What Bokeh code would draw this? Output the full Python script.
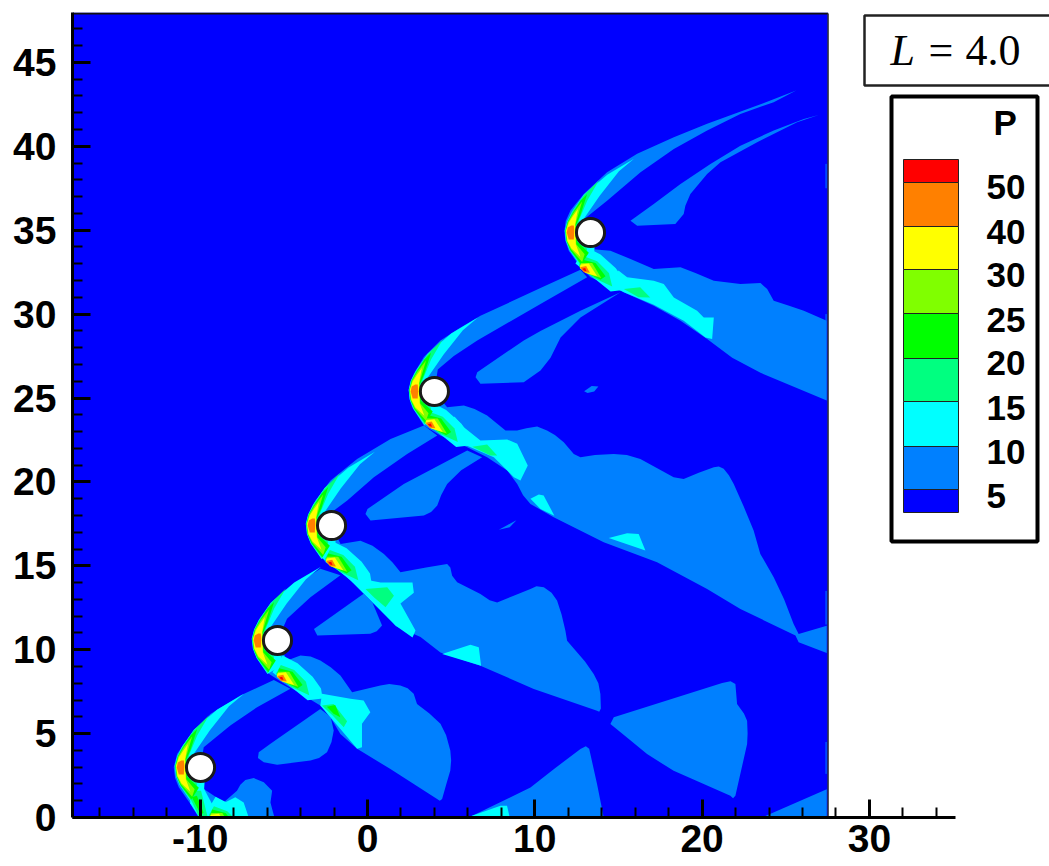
from bokeh.plotting import figure
from bokeh.models import Range1d, FixedTicker
from bokeh.core.properties import value
from bokeh.embed import file_html
from bokeh.resources import INLINE

# ---------- data ----------
levels = ["50", "40", "30", "25", "20", "15", "10", "5"]
C5, C10, C15, C20, C25, C30, C40, C50, C99 = ("#0000ff", "#0080ff", "#00ffff", "#00ff80",
                                             "#00ff00", "#80ff00", "#ffff00", "#ff8000", "#ff0000")
centres = [(-9.98, 2.98), (-5.38, 10.55), (-2.15, 17.4), (4.0, 25.39), (13.33, 34.86)]
lower_shift = [(0.9, -0.85), (0.3, 0.0), (0.0, 0.0), (-0.2, 0.25), (-0.3, 0.05)]
radius = 0.84
x_major = [-10, 0, 10, 20, 30]
x_minor = [-16, -14, -12, -8, -6, -4, -2, 2, 4, 6, 8, 12, 14, 16, 18, 22, 24, 26, 28, 32, 34]
y_major = [0, 5, 10, 15, 20, 25, 30, 35, 40, 45]
y_minor = [v for v in range(1, 48) if v % 5]
field_right = 27.53

# level 5-10 regions
bow1 = [(-5.6,8.2),(-7.6,7.27),(-9.39,6.17),(-10.0,5.55),(-10.58,4.88),(-11.0,4.35),(-11.38,3.79),(-11.58,2.99),(-11.5,2.35),(-11.28,1.8),
        (-10.58,.81),(-10.09,0),(-5.56,0),(-5.7,.5),(-5.8,.9),(-5.7,1.6),(-6.2,2.1),(-6.8,2.35),(-7.3,2.24),(-7.6,1.95),(-7.8,1.6),(-8.59,.91),
        (-10.39,2.1),(-9.98,2.98),(-9.79,4.19),(-8.2,5.48),(-6.6,6.57),(-4.61,7.67)]
bow2 = [(-2.82,14.82),(-4.21,13.93),(-5.6,12.74),(-6.5,11.74),(-6.75,11.2),(-6.84,10.55),(-6.8,10.0),(-6.6,9.55),(-5.9,8.56),(-4.81,7.86),(-3.81,7.27),
        (-2.82,6.67),(-2.22,5.98),(-1.62,4.98),(-.62,4.09),(1.37,2.89),(4.16,1.1),(4.32,1.0),(4.46,1.1),(4.7,1.95),(4.95,2.8),(5.0,3.4),(4.95,3.99),
        (4.7,4.9),(4.36,5.58),(3.7,6.2),(2.96,6.77),(2.76,7.37),(2.4,7.7),(1.96,7.86),(1.3,7.95),(.77,7.86),(-.92,7.47),(-1.62,8.46),(-2.2,8.95),(-2.82,9.36),
        (-3.4,9.6),(-4.01,9.65),(-4.81,9.36),(-5.38,10.55),(-4.81,11.84),(-3.41,13.13),(-1.62,14.43)]
bow3 = [(3.37,23.36),(1.38,22.56),(-.62,21.37),(-2.21,20.08),(-3.11,18.89),(-3.45,18.2),(-3.6,17.5),(-3.55,17.0),(-3.4,16.5),(-2.51,15.21),(-1.61,14.61),
        (-.42,13.72),(.78,12.53),(1.7,11.4),(3.17,10.75),(4.36,9.84),(6.75,9.05),(9.94,7.66),(13.72,6.36),(13.85,6.3),(13.95,6.5),(13.92,7.36),(13.8,8.0),
        (13.52,8.55),(13.0,9.3),(11.93,10.54),(11.83,11.13),(11.6,12.1),(11.33,12.93),(11.0,13.4),(10.54,13.72),(10.1,13.78),(9.74,13.62),(8.7,13.2),(7.75,12.82),
        (7.3,12.95),(6.75,13.32),(5.36,14.02),(5.06,14.41),(4.95,14.9),(4.76,15.11),(3.5,14.9),(1.97,14.61),(1.5,15.2),(.98,15.71),(.3,16.2),(-.42,16.5),(-1.61,16.3),(-2.15,17.4),
        (-2,18.3),(-1.21,18.89),(.38,20.28),(2.37,21.67),(4.17,22.76)]
bow4 = [(12.73,32.65),(10.34,31.55),(6.75,29.9),(5.4,29.1),(4.36,28.43),(3.37,27.44),(2.77,26.44),(2.55,25.95),(2.47,25.45),(2.5,24.95),(2.67,24.45),(3.37,23.36),
        (4.36,22.76),(5.96,22.07),(7.15,21.47),(8.35,20.68),(8.95,19.88),(9.3,19.2),(9.74,18.69),(11.13,17.89),(14.12,16.4),(17.31,15.21),
        (20.3,13.62),(22.29,12.43),(25.58,10.84),(25.77,10.44),(27.45,9.8),(27.45,11.43),(25.77,10.94),(25.47,11.53),(24.9,13.0),(24.28,14.32),
        (23.48,15.71),(23.08,17.1),(22.5,18.5),(21.89,19.88),(21.6,20.4),(21.29,20.78),(21.0,20.92),(20.7,20.88),(19.8,20.55),(18.9,20.18),(18.3,20.28),(16.31,21.37),
        (15.5,21.6),(14.72,21.67),(13.6,21.6),(12.73,21.47),(12.33,21.67),(11.73,22.37),(11.2,22.8),(10.73,23.06),(10.14,23.3),(9.5,23.2),(8.94,23.06),(8.25,23.06),
        (7.15,23.96),(6.4,24.35),(5.76,24.55),(4.76,24.45),(4,25.39),(4.2,26.7),(5.16,27.5),(6.56,28.43),(10.34,30.6),(13.13,32.19)]
bow5 = [(25.62,43.32),(23.29,42.43),(20.3,41.34),(18.31,40.54),(16.12,39.55),(14.32,38.45),(12.93,37.16),(12.13,36.17),(11.85,35.55),(11.77,34.97),(11.82,34.4),
        (12.03,33.78),(12.73,32.79),(13.33,32.19),(15.32,31.3),(17.11,30.5),(18.71,29.61),(20.3,28.51),(21.8,27.4),(23.49,26.5),(27.45,24.85),
        (27.45,29.6),(26.08,30.2),(25.2,30.5),(24.28,30.8),(23.89,31.49),(23.49,31.85),(22.29,31.79),(20.7,31.99),(19.6,32.45),(18.71,32.79),(17.11,32.69),
        (15.72,33.28),(14.52,33.78),(13.33,33.88),(13.33,34.86),(12.83,35.57),(14.32,36.76),(16.32,38.45),(18.31,39.84),(20.3,40.94),
        (22.29,41.93),(24.28,42.63)]
wedge1 = [(-6.5,3.89),(-5.8,4.39),(-2.82,6.47),(-2.2,6.0),(-2.02,5.18),(-2.15,4.5),(-2.42,3.89),(-2.9,3.55),(-3.41,3.39),(-5.4,3.15),(-6.2,3.29),(-6.55,3.55)]
wedge2 = [(-3.2,11.24),(-.23,13.33),(.3,12.8),(.87,11.44),(.55,11.1),(.17,10.95),(-3,10.85)]
wedge3 = [(0,18.39),(2.17,19.88),(5.96,21.87),(6.85,21.47),(5.6,20.7),(4.76,19.88),(4.4,19.2),(4.17,18.59),(3.8,18.2),(3.37,18),(.18,17.7),(-.12,18.09)]
wedge4 = [(6.56,26.54),(9.34,28.43),(10.34,29.0),(12.73,30.2),(15.12,31.3),(12.73,29.8),(11.54,28.6),(10.94,27.4),(10.34,26.64),
          (9.34,25.94),(6.75,25.85),(6.46,26.24)]
wedge5 = [(26.97,41.87),(25.68,41.43),(23.29,40.24),(21.1,39.05),(20.3,38.35),(19.3,37.16),(19.0,36.46),(18.9,35.97),(18.4,35.37),
          (16.12,35.27),(15.72,35.57),(17.11,36.56),(18.71,37.76),(20.5,38.95),(22.29,40.04),(24.28,40.94),(26.08,41.63)]
blob1 = [(12.95,25.4),(13.4,25.72),(13.8,25.68),(13.55,25.38),(13.15,25.3)]
blob2 = [(7.85,17.15),(8.4,17.45),(8.9,17.72),(8.5,17.3)]
patch_low = [(6.05,0),(9.74,1.79),(11.13,2.88),(12.73,4.08),(13.05,4.25),(13.25,4.1),(13.72,2),(14.12,0)]
patch_tri = [(14.52,5.57),(14.72,5.97),(21.2,8.02),(21.7,8.12),(21.99,7.95),(22.09,6.76),(22.5,6.2),(22.69,5.77),(22.72,5.0),(22.69,4.38),(21.99,1.29),(21.85,1.15),(21.69,1.29),
             (18.3,2.78),(16.71,3.78),(15.6,4.7)]
patch_corner = [(23.58,0),(27.45,1.69),(27.45,0)]
edge_streaks = [(38.95, 37.5), (30.0, 29.6), (13.5, 11.5), (4.5, 2.6)]

# level 10-15 regions
tail2 = [(-2.82,6.67),(-2.72,7.37),(-1.02,7.07),(-.23,6.97),(.17,6.27),(-.33,5.58),(-.33,4.19),(-.62,4.09),(-1.62,5.28)]
tail3 = [(-1.3,14.4),(.78,14.0),(2.69,14.0),(2.77,13.4),(1.97,12.75),(2.87,11.14),(2.69,10.73),(1.67,11.44),(.48,12.63)]
tail4 = [(5.2,23.9),(5.76,23.26),(6.75,22.47),(8.35,22.53),(8.95,22.27),(9.58,20.97),(9.14,20.08),(8.75,20.28),(7.55,21.47),(6.16,22.07),(4.6,22.7)]
tail5 = [(15.0,32.6),(15.52,32.19),(17.11,31.99),(17.71,31.79),(18.31,30.99),(19.7,30.2),(20.1,29.8),(20.7,29.8),(20.6,28.51),
         (20.2,28.61),(18.9,29.6),(17.11,30.56),(15.32,31.3),(14.6,31.7)]
bump1 = [(-9.6,0),(-8.7,.8),(-7.9,1.2),(-7.4,.9),(-7.1,0)]
foot1 = [(-10.6,.85),(-10.05,0),(-9.0,0),(-8.98,.22),(-9.98,2.1),(-10.6,1.5)]
spot1 = [(9.74,18.99),(10.24,19.25),(10.53,19.19),(11.17,17.99),(10.34,18.39)]
spot2 = [(14.42,16.66),(15.52,16.94),(16.21,16.9),(16.61,15.91)]
spot3 = [(4.46,9.74),(6.15,10.3),(6.65,10.14),(6.79,9.05)]
spot4 = [(5.95,0),(7.95,.7),(8.34,.7),(8.5,0)]

# level 15-20 regions
tail2_20 = [(-2.72,6.67),(-2.02,6.77),(-1.22,5.73),(-1.42,5.38),(-2.1,6.1)]
tail3_20 = [(-.12,13.62),(1.18,13.72),(1.58,13.22),(1.08,12.53),(.38,13.12)]
tail4_20 = [(6.26,22.1),(7.15,22.23),(7.75,21.57),(7.35,21.57)]
tail5_20 = [(15.32,31.49),(16.3,31.6),(16.9,30.99),(16.2,31.0)]
foot1_20 = [(-10.55,1.05),(-10.05,0),(-9.55,0),(-9.95,1.6),(-10.5,1.6)]
# level 20-25 regions
tail2_25 = [(-2.43,6.6),(-1.93,6.7),(-1.62,5.98),(-2.03,6.18)]
foot1_25 = [(-10.5,1.2),(-9.95,.15),(-9.8,.3),(-10.2,1.3)]

# bow-head contours, offsets from each cylinder's centre
head15 = [(2.6,4.4),(1.0,3.45),(-.4,2.25),(-1.1,1.25),(-1.4,.65),(-1.54,.1),(-1.47,-.5),(-1.25,-1.05),(-.6,-2.0),(.2,-1.5),(.3,0),(-.45,.75),(.55,2.2),(1.7,3.65)]
head20 = [(.5,3.1),(-.38,2.25),(-1.08,1.25),(-1.38,.65),(-1.52,.1),(-1.45,-.5),(-1.23,-1.05),(-.58,-1.95),(-.2,-1.0),(-.75,-.1),(-.7,.7),(-.2,1.9)]
head25 = [(-.2,2.3),(-.6,1.9),(-1.05,1.2),(-1.36,.65),(-1.5,.1),(-1.43,-.5),(-1.2,-1.05),(-.55,-1.9),(-.1,-1.2),(-.8,-.55),(-.88,.4),(-.6,1.05)]
head30 = [(-.5,1.85),(-1.0,1.2),(-1.33,.65),(-1.48,.1),(-1.41,-.5),(-1.17,-1.0),(-.5,-1.75),(-.35,-1.3),(-.85,-.7),(-.9,.5)]
head40 = [(-.75,1.4),(-1.07,.95),(-1.3,.6),(-1.46,.1),(-1.38,-.5),(-1.14,-.95),(-.6,-1.45),(-.88,-.7),(-.92,.5)]
head50 = [(-1.15,.42),(-1.36,.3),(-1.42,.0),(-1.3,-.42),(-1.0,-.42),(-.97,.1),(-1.0,.42)]
# lower-shock contours, offsets from each cylinder's centre
low15 = [(-.6,-1.9),(0,-.9),(.9,-1.36),(1.8,-2.16),(2.3,-2.86),(2.4,-3.46),(1.5,-3.56),(.5,-2.76),(-.4,-2.06)]
low20 = [(-.4,-2.0),(-.1,-1.46),(.7,-1.76),(1.4,-2.46),(1.6,-3.26),(.5,-2.76)]
low25 = [(-.2,-1.66),(.6,-1.86),(1.2,-2.66),(.9,-2.86),(.1,-2.46),(-.36,-2.1)]
low30 = [(-.26,-1.86),(.4,-1.86),(.94,-2.76),(.3,-2.56),(-.34,-2.16)]
low40 = [(-.3,-1.96),(.2,-1.9),(.7,-2.66),(0,-2.46),(-.34,-2.16)]
low50 = [(-.32,-2.12),(.04,-2.04),(.26,-2.44),(-.1,-2.42)]
low99 = [(-.2,-2.2),(-.02,-2.16),(.06,-2.36),(-.08,-2.32)]


# ---------- layout (reference pixel positions of the decorations) ----------
def fx(px):
    return (px - 367) / 16.73


def fy(py):
    return (817 - py) / 16.78


p = figure(frame_width=977, frame_height=805, output_backend="svg", toolbar_location=None,
           x_range=Range1d(fx(72), fx(1049)), y_range=Range1d(0, fy(12)),
           min_border_left=72, min_border_right=0, min_border_top=12, min_border_bottom=49,
           background_fill_color="white", border_fill_color="white")
p.outline_line_color = None
p.grid.visible = False

FONT = "Liberation Sans"
for ax, maj, mnr in ((p.xaxis[0], x_major, x_minor), (p.yaxis[0], y_major, y_minor)):
    ax.ticker = FixedTicker(ticks=maj, minor_ticks=mnr)
    ax.axis_line_color = "black"
    ax.axis_line_width = 3
    ax.major_tick_line_color = "black"
    ax.major_tick_line_width = 3
    ax.minor_tick_line_color = "black"
    ax.minor_tick_line_width = 2
    ax.major_tick_in = 18
    ax.major_tick_out = 0
    ax.minor_tick_in = 10
    ax.minor_tick_out = 0
    ax.major_label_text_font = FONT
    ax.major_label_text_font_style = "bold"
    ax.major_label_text_font_size = "39px"
    ax.major_label_text_color = "black"
p.xaxis[0].bounds = (fx(72), fx(955))
p.xaxis[0].major_label_overrides = {-10: "-10"}
p.xaxis[0].major_label_standoff = 7
p.yaxis[0].major_label_standoff = 16

# field
p.quad(left=[fx(72)], right=[field_right], bottom=[0], top=[fy(12)], fill_color=C5, line_color=None)


def draw(polys, color):
    p.patches([[a for a, _ in q] for q in polys], [[b for _, b in q] for q in polys],
              fill_color=color, line_color=None)


def shifted(poly, which):
    out = []
    for i, (cx, cy) in enumerate(centres):
        sx, sy = lower_shift[i] if which == "low" else (0, 0)
        out.append([(cx + sx + a, cy + sy + b) for a, b in poly])
    return out


draw([bow1, bow2, bow3, bow4, bow5, wedge1, wedge2, wedge3, wedge4, wedge5, blob1, blob2,
      patch_low, patch_tri, patch_corner], C10)
p.segment(x0=[27.41] * len(edge_streaks), x1=[27.41] * len(edge_streaks),
          y0=[a for a, _ in edge_streaks], y1=[b for _, b in edge_streaks], line_color=C10, line_width=1)
draw([tail2, tail3, tail4, tail5, bump1, foot1, spot1, spot2, spot3, spot4]
     + shifted(head15, "head") + shifted(low15, "low"), C15)
draw([tail2_20, tail3_20, tail4_20, tail5_20, foot1_20] + shifted(head20, "head") + shifted(low20, "low"), C20)
draw([tail2_25, foot1_25] + shifted(head25, "head") + shifted(low25, "low"), C25)
draw(shifted(head30, "head") + shifted(low30, "low"), C30)
draw(shifted(head40, "head") + shifted(low40, "low"), C40)
draw(shifted(head50, "head") + shifted(low50, "low"), C50)
draw(shifted(low99, "low"), C99)

# cylinders
p.circle(x=[c[0] for c in centres], y=[c[1] for c in centres], radius=radius,
         fill_color="white", line_color="#1a1a1a", line_width=3)

# frame edges of the field
p.line([fx(72), field_right], [fy(13), fy(13)], line_color="#111111", line_width=2)
p.line([field_right, field_right], [0, fy(13)], line_color="#333333", line_width=1.5)

# L = 4.0 box
p.quad(left=[fx(864)], right=[fx(1060)], bottom=[fy(85)], top=[fy(15)], fill_color="white",
       line_color="#222222", line_width=2.5)
p.text(x=[fx(890)], y=[fy(50)], text=["L"], text_font=value("Liberation Serif"), text_font_style="italic",
       text_font_size="44px", text_color="black", text_baseline="middle")
p.text(x=[fx(928)], y=[fy(50)], text=["="], text_font=value("Liberation Serif"),
       text_font_size="44px", text_color="black", text_baseline="middle")
p.text(x=[fx(965)], y=[fy(50)], text=["4.0"], text_font=value("Liberation Serif"),
       text_font_size="44px", text_color="black", text_baseline="middle")

# legend
p.quad(left=[fx(891)], right=[fx(1037)], bottom=[fy(541)], top=[fy(96)], fill_color="white",
       line_color="black", line_width=4)
edges = [159, 182, 226, 269, 313, 358, 401, 446, 489, 512]
colors = [C99, C50, C40, C30, C25, C20, C15, C10, C5]
p.quad(left=[fx(903)] * 9, right=[fx(958)] * 9, top=[fy(e) for e in edges[:-1]], bottom=[fy(e) for e in edges[1:]],
       fill_color=colors, line_color="#222222", line_width=1)
label_y = [186, 231, 274, 319, 362, 407, 451, 495]
p.text(x=[fx(986)] * len(levels), y=[fy(v) for v in label_y], text=levels, text_font=value(FONT),
       text_font_style="bold", text_font_size="35px", text_color="black", text_baseline="middle")
p.text(x=[fx(993)], y=[fy(122)], text=["P"], text_font=value(FONT), text_font_style="bold",
       text_font_size="35px", text_color="black", text_baseline="middle")

open("out.html", "w").write(file_html(p, INLINE))
